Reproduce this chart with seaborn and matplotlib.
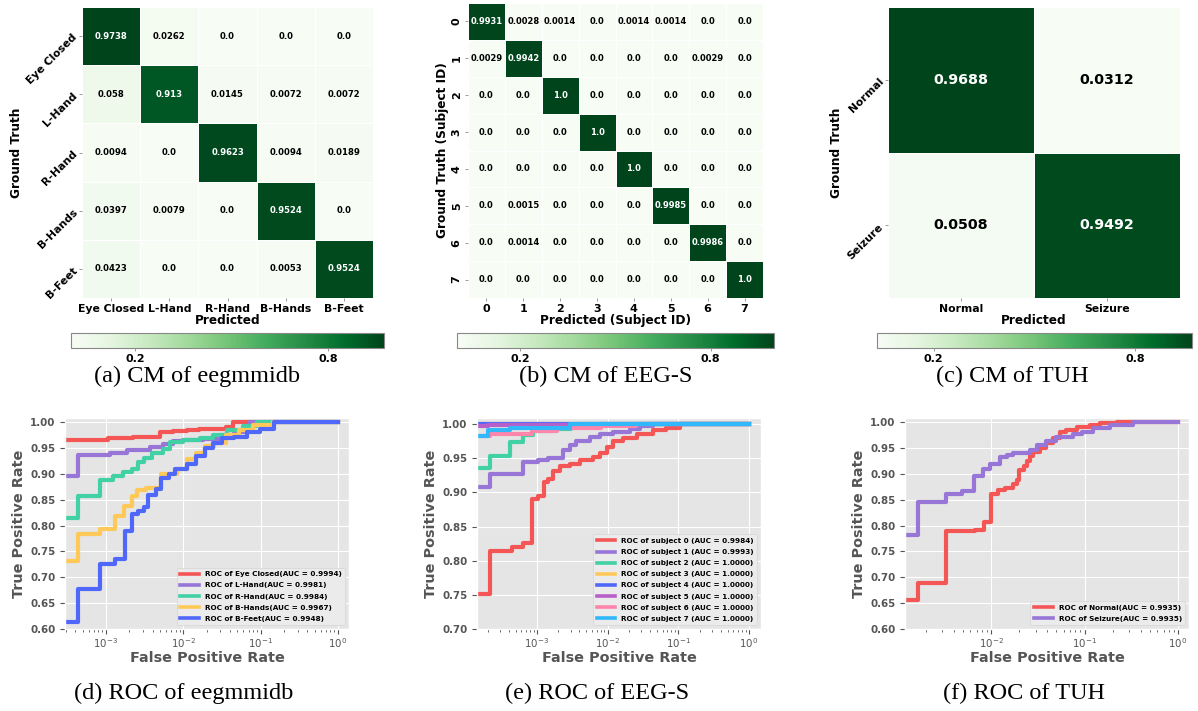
import numpy as np
import pandas as pd
import seaborn as sns
import matplotlib.pyplot as plt

###############################################################################
# confusion matrices
###############################################################################
eeg_classes = ["Eye Closed", "L-Hand", "R-Hand", "B-Hands", "B-Feet"]
eeg_cm = [[0.9738, 0.0262, 0.0, 0.0, 0.0],
          [0.058, 0.913, 0.0145, 0.0072, 0.0072],
          [0.0094, 0.0, 0.9623, 0.0094, 0.0189],
          [0.0397, 0.0079, 0.0, 0.9524, 0.0],
          [0.0423, 0.0, 0.0, 0.0053, 0.9524]]

subj_classes = ["0", "1", "2", "3", "4", "5", "6", "7"]
subj_cm = [[0.9931, 0.0028, 0.0014, 0.0, 0.0014, 0.0014, 0.0, 0.0],
           [0.0029, 0.9942, 0.0, 0.0, 0.0, 0.0, 0.0029, 0.0],
           [0.0, 0.0, 1.0, 0.0, 0.0, 0.0, 0.0, 0.0],
           [0.0, 0.0, 0.0, 1.0, 0.0, 0.0, 0.0, 0.0],
           [0.0, 0.0, 0.0, 0.0, 1.0, 0.0, 0.0, 0.0],
           [0.0, 0.0015, 0.0, 0.0, 0.0, 0.9985, 0.0, 0.0],
           [0.0, 0.0014, 0.0, 0.0, 0.0, 0.0, 0.9986, 0.0],
           [0.0, 0.0, 0.0, 0.0, 0.0, 0.0, 0.0, 1.0]]

tuh_classes = ["Normal", "Seizure"]
tuh_cm = [[0.9688, 0.0312],
          [0.0508, 0.9492]]

###############################################################################
# ROC curves (fpr where tpr jumps, tpr after the jump)
###############################################################################
eeg_auc = [0.9994, 0.9981, 0.9984, 0.9967, 0.9948]
eeg_fpr_eye = [1e-5, 1.06e-3, 2.24e-3, 5e-3, 7.4e-3, 1.1e-2, 1.6e-2, 3.6e-2, 4.4e-2, 1.0]
eeg_tpr_eye = [0.965, 0.970, 0.972, 0.980, 0.983, 0.985, 0.987, 0.990, 1.0, 1.0]
eeg_fpr_lh = [1e-5, 4.3e-4, 1.13e-3, 1.87e-3, 3.7e-3, 5.5e-3, 7.4e-3, 1e-2, 1.8e-2, 3e-2, 4.5e-2, 6.6e-2, 7.2e-2, 1.0]
eeg_tpr_lh = [0.895, 0.937, 0.940, 0.946, 0.951, 0.957, 0.963, 0.966, 0.968, 0.975, 0.980, 0.990, 1.0, 1.0]
eeg_fpr_rh = [1e-5, 4.3e-4, 8.4e-4, 1.23e-3, 1.66e-3, 2.2e-3, 2.6e-3, 3.1e-3, 3.9e-3, 5.4e-3, 6.7e-3,
              1e-2, 1.65e-2, 2.45e-2, 3.7e-2, 6e-2, 8.9e-2, 1.0]
eeg_tpr_rh = [0.814, 0.858, 0.889, 0.895, 0.904, 0.910, 0.923, 0.930, 0.940, 0.948, 0.962,
              0.966, 0.970, 0.975, 0.985, 0.993, 1.0, 1.0]
eeg_fpr_bh = [1e-5, 4.3e-4, 8.4e-4, 1.3e-3, 1.7e-3, 2.15e-3, 2.5e-3, 3.3e-3, 5.2e-3, 8.2e-3, 1.1e-2,
              1.45e-2, 1.9e-2, 2.5e-2, 3.6e-2, 5.2e-2, 8e-2, 0.144, 1.0]
eeg_tpr_bh = [0.731, 0.783, 0.794, 0.819, 0.838, 0.858, 0.868, 0.873, 0.900, 0.910, 0.928,
              0.940, 0.953, 0.960, 0.975, 0.985, 0.995, 1.0, 1.0]
eeg_fpr_bf = [1e-5, 4.4e-4, 8.4e-4, 1.3e-3, 1.76e-3, 2.2e-3, 2.6e-3, 3.1e-3, 3.5e-3, 4.5e-3, 5.2e-3,
              6.6e-3, 7.8e-3, 1.1e-2, 1.45e-2, 1.9e-2, 2.4e-2, 3.2e-2, 4.5e-2, 6.6e-2, 9.7e-2, 0.15, 1.0]
eeg_tpr_bf = [0.613, 0.677, 0.725, 0.736, 0.790, 0.823, 0.828, 0.835, 0.860, 0.870, 0.892,
              0.900, 0.910, 0.920, 0.935, 0.950, 0.960, 0.970, 0.972, 0.980, 0.987, 1.0, 1.0]

subj_auc = [0.9984, 0.9993, 1.0, 1.0, 1.0, 1.0, 1.0, 1.0]
subj_fpr_0 = [1e-5, 2.16e-4, 4.4e-4, 6.4e-4, 8.4e-4, 1.03e-3, 1.26e-3, 1.44e-3, 1.67e-3, 2.1e-3, 2.9e-3,
              4.05e-3, 6.3e-3, 7.8e-3, 9.7e-3, 1.2e-2, 1.66e-2, 2.57e-2, 4.4e-2, 6.8e-2, 0.105, 1.0]
subj_tpr_0 = [0.751, 0.814, 0.820, 0.826, 0.890, 0.895, 0.916, 0.920, 0.931, 0.938, 0.941,
              0.948, 0.952, 0.958, 0.967, 0.976, 0.980, 0.986, 0.991, 0.995, 1.0, 1.0]
subj_fpr_1 = [1e-5, 2.16e-4, 6.4e-4, 1.03e-3, 1.44e-3, 2.35e-3, 2.9e-3, 3.6e-3, 5.6e-3, 7.8e-3, 1.2e-2,
              2.06e-2, 2.86e-2, 4.4e-2, 1.0]
subj_tpr_1 = [0.908, 0.927, 0.944, 0.948, 0.951, 0.962, 0.970, 0.976, 0.981, 0.986, 0.988,
              0.993, 0.997, 1.0, 1.0]
subj_fpr_2 = [1e-5, 2.16e-4, 4.2e-4, 6.4e-4, 8.9e-4, 1.7e-3, 3e-3, 5e-3, 1.0]
subj_tpr_2 = [0.936, 0.953, 0.974, 0.984, 0.990, 0.993, 0.997, 1.0, 1.0]
subj_fpr_3 = [1e-5, 1.0]
subj_tpr_3 = [1.0, 1.0]
subj_fpr_4 = [1e-5, 1.0]
subj_tpr_4 = [1.0, 1.0]
subj_fpr_5 = [1e-5, 2.0e-4, 8e-3, 1.0]
subj_tpr_5 = [0.997, 0.999, 1.0, 1.0]
subj_fpr_6 = [1e-5, 2.16e-4, 8.5e-4, 1.9e-3, 8e-3, 2.5e-2, 1.0]
subj_tpr_6 = [0.983, 0.986, 0.990, 0.994, 0.997, 1.0, 1.0]
subj_fpr_7 = [1e-5, 2.0e-4, 4.2e-4, 2.9e-3, 1.0]
subj_tpr_7 = [0.982, 0.991, 0.995, 1.0, 1.0]

tuh_auc = [0.9935, 0.9935]
tuh_fpr_normal = [1e-5, 1.67e-3, 3.33e-3, 6.7e-3, 8.3e-3, 1e-2, 1.2e-2, 1.4e-2, 1.73e-2, 1.88e-2, 2e-2,
                  2.24e-2, 2.4e-2, 2.6e-2, 2.84e-2, 3.34e-2, 3.9e-2, 4.6e-2, 5.4e-2, 6.4e-2, 8.2e-2,
                  0.114, 0.145, 0.22, 1.0]
tuh_tpr_normal = [0.656, 0.689, 0.789, 0.792, 0.806, 0.861, 0.868, 0.873, 0.880, 0.888, 0.908,
                  0.915, 0.924, 0.935, 0.943, 0.950, 0.960, 0.969, 0.980, 0.985, 0.990,
                  0.995, 0.998, 1.0, 1.0]
tuh_fpr_seizure = [1e-5, 1.67e-3, 3.3e-3, 4.9e-3, 6.5e-3, 8.1e-3, 9.8e-3, 1.25e-2, 1.47e-2, 1.73e-2,
                   2.6e-2, 3.1e-2, 3.9e-2, 5e-2, 7.6e-2, 9.5e-2, 0.124, 0.187, 0.33, 1.0]
tuh_tpr_seizure = [0.781, 0.845, 0.862, 0.866, 0.895, 0.910, 0.919, 0.933, 0.937, 0.941,
                   0.946, 0.955, 0.963, 0.971, 0.977, 0.980, 0.988, 0.995, 1.0, 1.0]

roc_colors = ["#f45656", "#9776d8", "#42d1a4", "#ffc95a", "#5068fa", "#b760c9", "#ff85ab", "#30b8fb"]

W, H = 1198, 711
fig = plt.figure(figsize=(W / 100, H / 100), dpi=100)


def px_axes(x0, y0, x1, y1):
    # pixel box (top-left origin) -> figure axes
    return fig.add_axes([x0 / W, 1 - y1 / H, (x1 - x0) / W, (y1 - y0) / H])


def cm_plot(box, cbox, values, labels, annot_size, tick_size, yrot, xlabel, ylabel):
    ax = px_axes(*box)
    cax = px_axes(*cbox)
    annot = [[str(v) for v in row] for row in values]
    sns.heatmap(np.array(values), annot=np.array(annot), fmt="", cmap="Greens", ax=ax, cbar_ax=cax,
                cbar_kws={"orientation": "horizontal", "ticks": [0.2, 0.8]},
                linewidths=0.5, linecolor="white",
                xticklabels=labels, yticklabels=labels,
                annot_kws={"size": annot_size, "weight": "bold"})
    # black text on the pale cells
    for t in ax.texts:
        if t.get_color() != "w":
            t.set_color("black")
    ax.set_xticklabels(labels, rotation=0, fontsize=tick_size, fontweight="bold")
    if yrot == 90:
        ax.set_yticklabels(labels, rotation=90, fontsize=tick_size, fontweight="bold", va="center")
    else:
        ax.set_yticklabels(labels, rotation=yrot, fontsize=tick_size, fontweight="bold",
                           ha="right", va="center", rotation_mode="anchor")
    ax.tick_params(length=2.5, width=0.6, color="#888888", pad=2)
    ax.set_xlabel(xlabel, fontsize=8.7, fontweight="bold", labelpad=0)
    ax.set_ylabel(ylabel, fontsize=8.7, fontweight="bold", labelpad=2)
    cax.tick_params(labelsize=8, length=2.5, width=0.6, color="#888888", pad=2)
    for t in cax.get_xticklabels():
        t.set_fontweight("bold")
    cbar = ax.collections[0].colorbar
    cbar.outline.set_edgecolor("#888888")
    cbar.outline.set_linewidth(0.8)
    return ax


cm_plot((82, 7, 373, 298), (71, 333, 384, 348), eeg_cm, eeg_classes, 6.1, 7.8, 45,
        "Predicted", "Ground Truth")
cm_plot((468, 3, 763, 298), (457, 333, 774, 348), subj_cm, subj_classes, 6.0, 8, 90,
        "Predicted (Subject ID)", "Ground Truth (Subject ID)")
cm_plot((888, 7, 1180, 298), (877, 333, 1192, 348), tuh_cm, tuh_classes, 10.3, 7.8, 45,
        "Predicted", "Ground Truth")


def roc_plot(box, curves, names, aucs, fmt, xlim, ylim):
    ax = px_axes(*box)
    for (fpr, tpr), name, auc, c in zip(curves, names, aucs, roc_colors):
        sns.lineplot(x=fpr, y=tpr, ax=ax, color=c, lw=3, estimator=None, sort=False,
                     drawstyle="steps-post", label=fmt.format(name, auc))
    ax.set_xscale("log")
    ax.set_xlim(*xlim)
    ax.set_ylim(*ylim)
    yt = np.arange(ylim[0], 1.001, 0.05)
    ax.set_yticks(yt)
    ax.set_yticklabels([f"{v:.2f}" for v in yt], fontsize=7.4, fontweight="bold", color="#555555")
    ax.tick_params(axis="x", labelsize=7.4, colors="#555555", pad=1.5)
    ax.tick_params(axis="y", colors="#555555")
    ax.set_xlabel("False Positive Rate", fontsize=10.4, fontweight="bold", color="#555555", labelpad=1)
    ax.set_ylabel("True Positive Rate", fontsize=10.4, fontweight="bold", color="#555555", labelpad=3)
    leg = ax.legend(loc="lower right", prop={"weight": "bold", "size": 5.2}, labelspacing=0.7,
                    handlelength=2.6, borderpad=0.5, facecolor="#ebebeb", edgecolor="#d5d5d5",
                    framealpha=1)
    for line in leg.get_lines():
        line.set_linewidth(2.6)
    return ax


with plt.style.context("ggplot"):
    roc_plot((65, 418, 349, 629),
             [(eeg_fpr_eye, eeg_tpr_eye), (eeg_fpr_lh, eeg_tpr_lh), (eeg_fpr_rh, eeg_tpr_rh),
              (eeg_fpr_bh, eeg_tpr_bh), (eeg_fpr_bf, eeg_tpr_bf)],
             eeg_classes, eeg_auc, "ROC of {}(AUC = {:.4f})", (2.95e-4, 1.39), (0.6, 1.008))
    roc_plot((477, 418, 761, 629),
             [(subj_fpr_0, subj_tpr_0), (subj_fpr_1, subj_tpr_1), (subj_fpr_2, subj_tpr_2),
              (subj_fpr_3, subj_tpr_3), (subj_fpr_4, subj_tpr_4), (subj_fpr_5, subj_tpr_5),
              (subj_fpr_6, subj_tpr_6), (subj_fpr_7, subj_tpr_7)],
             subj_classes, subj_auc, "ROC of subject {} (AUC = {:.4f})", (1.42e-4, 1.48), (0.7, 1.009))
    roc_plot((905, 418, 1189, 629),
             [(tuh_fpr_normal, tuh_tpr_normal), (tuh_fpr_seizure, tuh_tpr_seizure)],
             tuh_classes, tuh_auc, "ROC of {}(AUC = {:.4f})", (1.2e-3, 1.31), (0.6, 1.008))

captions = ["(a) CM of eegmmidb", "(b) CM of EEG-S", "(c) CM of TUH",
            "(d) ROC of eegmmidb", "(e) ROC of EEG-S", "(f) ROC of TUH"]
cap_x = [197, 606, 1012, 184, 597, 1024]
cap_y = [376, 376, 376, 693, 693, 693]
for txt, cx, cy in zip(captions, cap_x, cap_y):
    fig.text(cx / W, 1 - cy / H, txt, ha="center", va="center", fontsize=17.5,
             family="Liberation Serif", fontweight="normal")

fig.savefig("out.png", dpi=100)
